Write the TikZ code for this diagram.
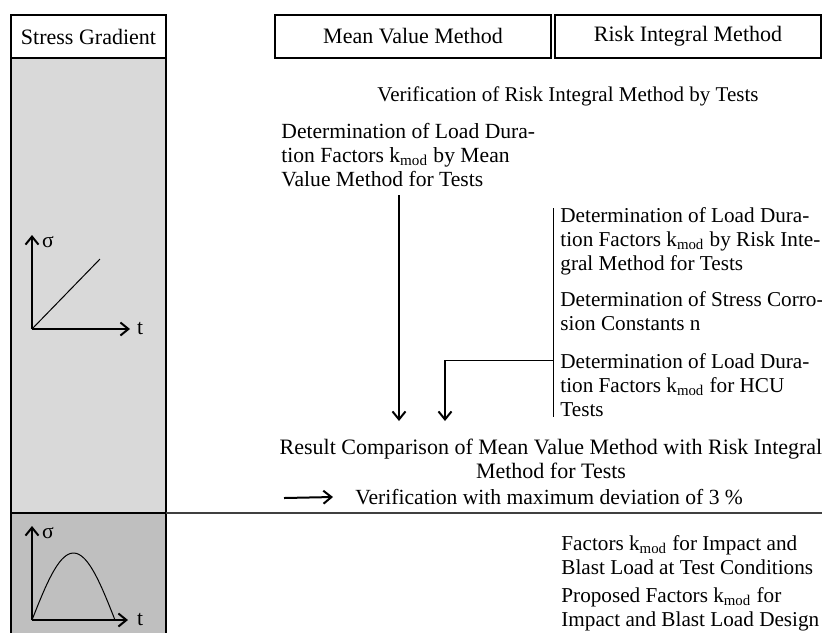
\documentclass[tikz,border=0pt]{standalone}
\usepackage{fontspec}
\setmainfont{Liberation Serif}
\usetikzlibrary{positioning,arrows.meta,calc}

\tikzset{
  hdr/.style={draw,line width=0.6pt,minimum height=21.5pt,inner sep=0pt,font=\fontsize{11}{12}\selectfont},
  txt/.style={align=left,inner sep=0pt,anchor=north west},
  rtxt/.style={txt,font=\fontsize{10.6}{12}\selectfont},
  arr/.style={-{Straight Barb[length=4pt,width=6.5pt]},line width=1pt},
}

\begin{document}
\begin{tikzpicture}[x=0.5pt,y=-0.5pt,font=\fontsize{10.8}{12}\selectfont]
  \useasboundingbox (0,0) rectangle (822,633);
  % stress gradient column
  \fill[black!15](11,58) rectangle (166,513);
  \fill[black!25](11,513) rectangle (166,633);
  \draw[line width=0.6pt](11,58)--(11,633) (166,58)--(166,633) (11,513)--(166,513);
  \draw[black!75,line width=0.8pt](166,513)--(822,513);

  % headers
  \node[hdr,minimum width=77.5pt] (sg) at (88.5,36.5) {Stress Gradient};
  \node[hdr,minimum width=138pt] (mvm) at (413,36.5) {Mean Value Method};
  \node[hdr,minimum width=133pt] (rim) at (688,36.5) {Risk Integral Method};

  % linear load
  \draw[arr](32,329)--(32,235);
  \draw[arr](32,329)--(130,329);
  \draw[line width=0.5pt](32,329)--(100,259);
  \node (sig1) at (48,242) {σ};
  \node (t1) at (140,329) {t};

  % impact load
  \draw[arr](32,620)--(32,526);
  \draw[arr](32,620)--(128,620);
  \draw[line width=0.5pt] plot[domain=0:180,samples=40] ({32+83*\x/180},{620-67*sin(\x)});
  \node (sig2) at (48,533) {σ};
  \node (t2) at (140,620) {t};

  % texts
  \node[font=\fontsize{10.5}{12}\selectfont] (verif) at (568,96) {Verification of Risk Integral Method by Tests};
  \node[txt] (mvmtests) at (281,123) {Determination of Load Dura-\\tion Factors k\textsubscript{mod} by Mean\\Value Method for Tests};
  \node[rtxt] (rimtests) at (560,207) {Determination of Load Dura-\\tion Factors k\textsubscript{mod} by Risk Inte-\\gral Method for Tests};
  \node[rtxt] (corro) at (560,291) {Determination of Stress Corro-\\sion Constants n};
  \node[rtxt] (hcu) at (560,353) {Determination of Load Dura-\\tion Factors k\textsubscript{mod} for HCU\\Tests};
  \node[align=center,inner sep=0pt,anchor=north,font=\fontsize{11}{12}\selectfont] (result) at (551,439) {Result Comparison of Mean Value Method with Risk Integral\\Method for Tests};
  \node[inner sep=0pt,anchor=west] (verdev) at (355,497) {Verification with maximum deviation of 3 \%};
  \node[rtxt] (impact) at (561,535) {Factors k\textsubscript{mod} for Impact and\\Blast Load at Test Conditions};
  \node[rtxt] (design) at (561,587) {Proposed Factors k\textsubscript{mod} for\\Impact and Blast Load Design};

  % connectors
  \coordinate (x1) at (399,0);
  \coordinate (x2) at (445,0);
  \coordinate (brtop) at (553,208);
  \coordinate (brbot) at (553,417);
  \coordinate (hcujoin) at (553,360);
  \coordinate (hcubend) at (hcujoin -| x2);
  \coordinate (vstart) at (284,498);
  \draw[line width=0.5pt](brtop)--(brbot);
  \draw[arr,shorten <=4pt,shorten >=9pt](mvmtests.south -| x1)--(result.north -| x1);
  \draw[line width=0.5pt](hcujoin)--(hcubend);
  \draw[arr,shorten >=9pt](hcubend)--(result.north -| x2);
  \draw[arr](vstart)--([xshift=-11pt]verdev.west);
\end{tikzpicture}
\end{document}
